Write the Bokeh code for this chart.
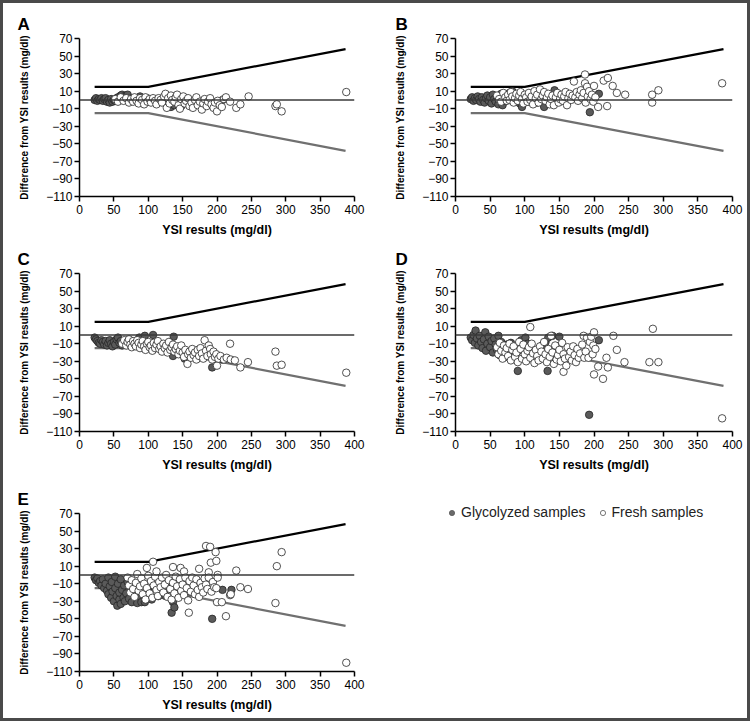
from bokeh.plotting import figure
from bokeh.models import Range1d, FixedTicker, Span, Legend, LegendItem, Title
from bokeh.layouts import row, column
from bokeh.embed import file_html
from bokeh.resources import INLINE

# ---------------- data ----------------
x_ticks = [0, 50, 100, 150, 200, 250, 300, 350, 400]
y_ticks = [-110, -90, -70, -50, -30, -10, 10, 30, 50, 70]

limit_x = [22, 100, 387]
upper_y = [15, 15, 58]
lower_y = [-15, -15, -58]

# Panel A
a_gly_x = [22, 24, 26, 28, 30, 32, 34, 36, 38, 40, 42, 44, 46, 48, 50, 52, 54, 56, 58, 60, 62, 64, 66, 68, 70, 72, 76, 82, 88, 92, 98, 118, 128, 133, 138, 143, 148, 203, 208]
a_gly_y = [0, 2, -1, 1, 0, 2, -1, 1, 2, -2, 0, -3, 1, -2, 0, -1, 2, 3, 1, 5, 6, 4, 3, 5, 6, 0, 2, 1, 4, -1, 2, -2, -5, -8, -6, -4, -7, -2, 0]
a_fresh_x = [52, 56, 60, 64, 68, 72, 75, 78, 80, 83, 86, 88, 91, 94, 96, 99, 102, 104, 107, 110, 112, 115, 118, 120, 123, 125, 127, 129, 131, 133, 135, 138, 140, 142, 144, 146, 148, 151, 153, 155, 158, 160, 163, 165, 168, 170, 172, 175, 178, 180, 182, 185, 187, 190, 192, 195, 197, 200, 201, 204, 207, 210, 213, 219, 228, 234, 246, 285, 287, 294, 388]
a_fresh_y = [1, -2, 3, -1, 2, -3, 1, -2, 3, -1, -4, 2, 0, -5, 3, -2, 1, -3, 2, -1, -5, 2, 0, -3, 4, 7, -9, 2, -4, 5, 0, -2, 3, 6, -6, -10, 1, 4, -4, -1, 2, -7, -3, -9, 0, 3, -6, -2, -11, -4, 1, -7, -2, 2, -5, -9, -3, -13, -1, -6, -8, 1, 3, -2, -9, -5, 4, -7, -5, -13, 9]

# Panel B
b_gly_x = [22, 24, 26, 28, 30, 32, 34, 36, 38, 40, 42, 44, 46, 48, 50, 52, 54, 56, 58, 60, 62, 64, 66, 68, 70, 72, 75, 78, 82, 85, 87, 90, 93, 96, 100, 105, 112, 118, 128, 135, 143, 150, 194, 207]
b_gly_y = [1, 3, -1, 2, 0, 4, 1, -2, 3, 0, -3, 2, 5, -1, 3, -4, 6, 1, -2, 4, -5, 2, 7, -6, 3, -1, 5, 8, 10, 1, -2, 6, -4, -8, 3, -2, 4, -3, -8, -2, 11, 2, -14, 7]
b_fresh_x = [60, 63, 66, 69, 72, 74, 76, 78, 80, 82, 84, 86, 88, 90, 92, 94, 96, 98, 100, 102, 104, 106, 108, 110, 112, 114, 116, 118, 120, 122, 124, 126, 128, 130, 132, 134, 136, 138, 140, 142, 145, 147, 149, 151, 153, 155, 157, 159, 161, 163, 165, 167, 169, 171, 173, 175, 177, 179, 181, 183, 185, 187, 187, 188, 190, 191, 193, 195, 197, 199, 200, 202, 206, 214, 219, 220, 227, 233, 245, 284, 284, 293, 385]
b_fresh_y = [5, 1, -2, 8, 3, -1, 6, 0, 9, 4, -3, 2, 7, -1, 5, 9, 1, -4, 6, 3, -2, 8, 0, 4, -5, 10, 2, 6, -3, 12, 1, 5, 9, -1, 3, 7, -5, 1, 5, -6, 3, 8, -3, 1, 6, -1, 4, 9, -6, 2, 7, 0, 5, 21, 3, 9, -1, 6, 11, 2, 8, 29, 19, -3, 15, 4, 10, 1, 6, -2, 16, 3, -8, 22, -7, 25, 16, 8, 6, 6, -3, 11, 19]

# Panel C
c_gly_x = [22, 24, 26, 28, 30, 32, 34, 36, 38, 40, 42, 44, 46, 48, 50, 52, 54, 56, 58, 60, 62, 65, 68, 72, 87, 95, 107, 115, 122, 128, 137, 136, 142, 147, 149, 153, 193, 207]
c_gly_y = [-3, -5, -7, -9, -10, -6, -8, -11, -7, -12, -9, -6, -10, -13, -8, -11, -5, -3, -9, -7, -12, -9, -10, -6, -3, -1, 0, -13, -17, -15, -2, -24, -19, -16, -22, -27, -37, -28]
c_fresh_x = [62, 65, 68, 70, 72, 74, 76, 78, 80, 82, 84, 86, 88, 90, 92, 94, 96, 98, 100, 102, 104, 106, 108, 110, 112, 114, 116, 118, 120, 122, 124, 126, 128, 130, 132, 134, 136, 138, 140, 142, 144, 146, 148, 150, 152, 154, 157, 158, 160, 162, 164, 166, 168, 170, 172, 174, 176, 178, 180, 182, 184, 186, 188, 190, 191, 193, 195, 197, 199, 200, 202, 205, 210, 214, 219, 220, 226, 234, 245, 285, 287, 294, 388]
c_fresh_y = [-10, -6, -12, -8, -5, -11, -14, -7, -10, -13, -6, -9, -15, -11, -7, -13, -17, -10, -8, -14, -12, -18, -9, -15, -11, -7, -16, -13, -19, -10, -15, -12, -20, -8, -17, -14, -11, -19, -16, -13, -22, -18, -12, -20, -25, -17, -33, -22, -19, -26, -16, -23, -20, -28, -17, -24, -15, -21, -27, -6, -18, -24, -12, -16, -22, -28, -19, -25, -22, -35, -27, -24, -28, -26, -10, -28, -29, -37, -31, -19, -35, -34, -43]

# Panel D
d_gly_x = [22, 24, 26, 28, 29, 31, 33, 35, 37, 39, 41, 43, 44, 46, 48, 50, 52, 54, 56, 58, 60, 62, 64, 66, 68, 70, 72, 74, 76, 80, 84, 88, 90, 95, 98, 101, 104, 110, 118, 125, 130, 133, 134, 136, 140, 142, 145, 150, 193, 207]
d_gly_y = [-3, -6, 0, -9, 5, -4, -12, -1, -8, -15, -5, 3, -18, -10, -2, -14, -7, -20, -4, -11, -17, -1, -23, -8, -14, -20, -25, -11, -17, -9, -22, -13, -41, -6, -18, -3, -10, -15, -20, -12, -8, -41, -3, -17, -1, -25, -15, -2, -91, -6]
d_fresh_x = [60, 62, 64, 66, 68, 70, 72, 74, 76, 78, 80, 82, 84, 86, 88, 90, 92, 94, 96, 98, 100, 102, 104, 106, 108, 108, 110, 112, 114, 116, 118, 120, 122, 124, 126, 128, 130, 132, 134, 136, 138, 140, 142, 144, 146, 148, 150, 152, 154, 156, 156, 158, 160, 162, 164, 166, 168, 170, 172, 174, 176, 178, 180, 183, 185, 186, 188, 190, 192, 194, 196, 198, 199, 200, 200, 202, 206, 213, 218, 220, 228, 233, 244, 280, 285, 293, 385]
d_fresh_y = [-14, -22, -9, -18, -27, -12, -20, -15, -24, -10, -29, -17, -13, -25, -20, -31, -8, -16, -27, -11, -22, -30, -18, -14, 9, -26, -10, -21, -32, -17, -24, -29, -13, -19, -27, -8, -22, -31, -16, -25, -1, -20, -33, -12, -28, -23, -17, -30, -9, -42, -22, -27, -35, -14, -25, -19, -29, -13, -23, -31, -16, -26, -21, -11, -1, -26, -19, -3, -26, -8, -2, -22, -12, 3, -45, -16, -36, -50, -26, -37, -1, -17, -31, -31, 7, -31, -95]

# Panel E
e_gly_x = [22, 24, 26, 28, 30, 32, 34, 36, 38, 40, 42, 42, 44, 46, 47, 48, 50, 52, 52, 54, 55, 56, 58, 58, 60, 60, 62, 64, 65, 66, 68, 70, 72, 74, 76, 80, 84, 88, 90, 95, 100, 105, 115, 125, 131, 134, 136, 138, 142, 148, 193, 208, 221]
e_gly_y = [-3, -6, -4, -9, -7, -12, -5, -15, -10, -18, -3, -22, -13, -26, -8, -19, -30, -15, -2, -24, -35, -10, -28, -20, -5, -33, -17, -26, -12, -30, -21, -8, -27, -15, -31, -20, -32, -25, -31, -31, -18, -28, -24, -24, -15, -43, -31, -37, -22, -20, -50, -17, -17]
e_fresh_x = [70, 72, 74, 76, 78, 80, 82, 84, 86, 88, 90, 92, 94, 96, 98, 98, 100, 102, 104, 106, 107, 108, 110, 112, 112, 114, 116, 118, 120, 122, 124, 126, 128, 130, 132, 134, 136, 136, 138, 140, 142, 144, 146, 147, 148, 150, 152, 152, 154, 156, 158, 159, 160, 162, 164, 166, 168, 170, 172, 174, 174, 176, 178, 180, 182, 184, 184, 186, 188, 188, 190, 191, 192, 194, 196, 198, 199, 199, 200, 201, 201, 207, 213, 219, 220, 228, 234, 245, 285, 287, 294, 388]
e_fresh_y = [-3, -12, -20, -6, -16, -25, -9, 1, -18, -13, -4, -22, -10, -28, 8, -15, -1, -21, -7, -26, 15, -12, -2, 4, -17, -24, -8, -14, -3, -20, -11, 0, -25, -6, -16, -28, 9, -9, -21, -2, -13, -26, -5, 8, -18, -11, 4, -23, -3, -15, -29, -43, -7, -19, -3, -12, -22, -5, -17, 7, -25, -9, -14, -20, -4, 33, -11, -16, 3, -3, 32, 14, -19, -8, -14, 26, 16, -15, -31, 0, -3, -31, -47, -23, -22, 5, -14, -16, -32, 10, 26, -100]

legend_labels = ["Glycolyzed samples", "Fresh samples"]

panels = [
    ("A", a_gly_x, a_gly_y, a_fresh_x, a_fresh_y),
    ("B", b_gly_x, b_gly_y, b_fresh_x, b_fresh_y),
    ("C", c_gly_x, c_gly_y, c_fresh_x, c_fresh_y),
    ("D", d_gly_x, d_gly_y, d_fresh_x, d_fresh_y),
    ("E", e_gly_x, e_gly_y, e_fresh_x, e_fresh_y),
]

FONT = "Liberation Sans"
GLY_FILL = "#5a5a5a"
EDGE = "#262626"

col_w = [380, 370]
col_border = [(79, 26), (75, 18)]
title_offset = [-62, -60]
row_h = [240, 240, 241]
row_border = [(38, 44), (33, 49), (33, 50)]


def make_panel(letter, gx, gy, fx, fy, r, c):
    bl, br = col_border[c]
    bt, bb = row_border[r]
    p = figure(width=col_w[c], height=row_h[r],
               x_range=Range1d(0, 400), y_range=Range1d(-110, 70),
               output_backend="svg", toolbar_location=None,
               min_border_left=bl, min_border_right=br,
               min_border_top=bt, min_border_bottom=bb)
    p.title = Title(text=letter, align="left", offset=title_offset[c],
                    text_font=FONT, text_font_size="17px",
                    text_font_style="bold", text_color="black")
    p.outline_line_color = None
    p.xgrid.visible = False
    p.ygrid.visible = False
    p.background_fill_color = None
    p.border_fill_color = None

    for ax in (p.xaxis[0], p.yaxis[0]):
        ax.axis_line_color = "black"
        ax.axis_line_width = 1.5
        ax.major_tick_line_color = "black"
        ax.major_tick_line_width = 1.5
        ax.major_tick_out = 5
        ax.major_tick_in = 0
        ax.minor_tick_line_color = None
        ax.major_label_text_font = FONT
        ax.major_label_text_font_size = "12px"
        ax.major_label_text_color = "black"
        ax.axis_label_text_font = FONT
        ax.axis_label_text_font_style = "bold"
        ax.axis_label_text_color = "black"

    p.xaxis.ticker = FixedTicker(ticks=x_ticks)
    p.yaxis.ticker = FixedTicker(ticks=y_ticks)
    p.yaxis.major_label_overrides = {t: (str(t) if t >= 0 else "\u2212" + str(-t)) for t in y_ticks}
    p.xaxis.axis_label = "YSI results (mg/dl)"
    p.yaxis.axis_label = "Difference from YSI results (mg/dl)"
    p.xaxis.axis_label_text_font_size = "12.5px"
    p.yaxis.axis_label_text_font_size = "10px"
    p.xaxis.major_label_standoff = 3
    p.yaxis.major_label_standoff = 2
    p.xaxis.axis_label_standoff = 6
    p.yaxis.axis_label_standoff = 13

    p.add_layout(Span(location=0, dimension="width", line_color="#3a3a3a", line_width=1.5))
    p.line(limit_x, upper_y, line_color="black", line_width=2.3)
    p.line(limit_x, lower_y, line_color="#707070", line_width=2.2)

    p.scatter(gx, gy, size=7.5, fill_color=GLY_FILL, line_color=EDGE, line_width=0.8)
    p.scatter(fx, fy, size=7.5, fill_color="white", line_color=EDGE, line_width=0.8)
    return p


figs = []
for i, (letter, gx, gy, fx, fy) in enumerate(panels):
    figs.append(make_panel(letter, gx, gy, fx, fy, i // 2, i % 2))

# legend cell: the legend sits at the top-left corner of this figure's frame
lg = figure(width=col_w[1], height=row_h[2], x_range=Range1d(0, 1), y_range=Range1d(0, 1),
            output_backend="svg", toolbar_location=None, title=None,
            x_axis_location=None, y_axis_location=None,
            min_border_left=65, min_border_right=10, min_border_top=24, min_border_bottom=10)
lg.frame_align = False
lg.xgrid.visible = False
lg.ygrid.visible = False
lg.outline_line_color = None
lg.background_fill_color = None
lg.border_fill_color = None
r_g = lg.scatter([float("nan")], [float("nan")], size=5, fill_color="#6a6a6a", line_color="#555555", line_width=0.8)
r_f = lg.scatter([float("nan")], [float("nan")], size=5, fill_color="white", line_color="#555555", line_width=0.8)
legend = Legend(items=[LegendItem(label=legend_labels[0], renderers=[r_g]),
                       LegendItem(label=legend_labels[1], renderers=[r_f])],
                orientation="horizontal", location="top_left",
                label_text_font=FONT, label_text_font_size="14px", label_text_color="#222222",
                glyph_width=13, glyph_height=13, label_standoff=3, spacing=10,
                padding=0, margin=0, border_line_color=None, background_fill_alpha=0,
                label_height=14)
lg.add_layout(legend)

page = column(row(figs[0], figs[1]), row(figs[2], figs[3]), row(figs[4], lg))
page.styles = {"box-shadow": "inset 0 0 0 3px #4a4a4a", "background-color": "white"}

open("out.html", "w").write(file_html(page, INLINE))
